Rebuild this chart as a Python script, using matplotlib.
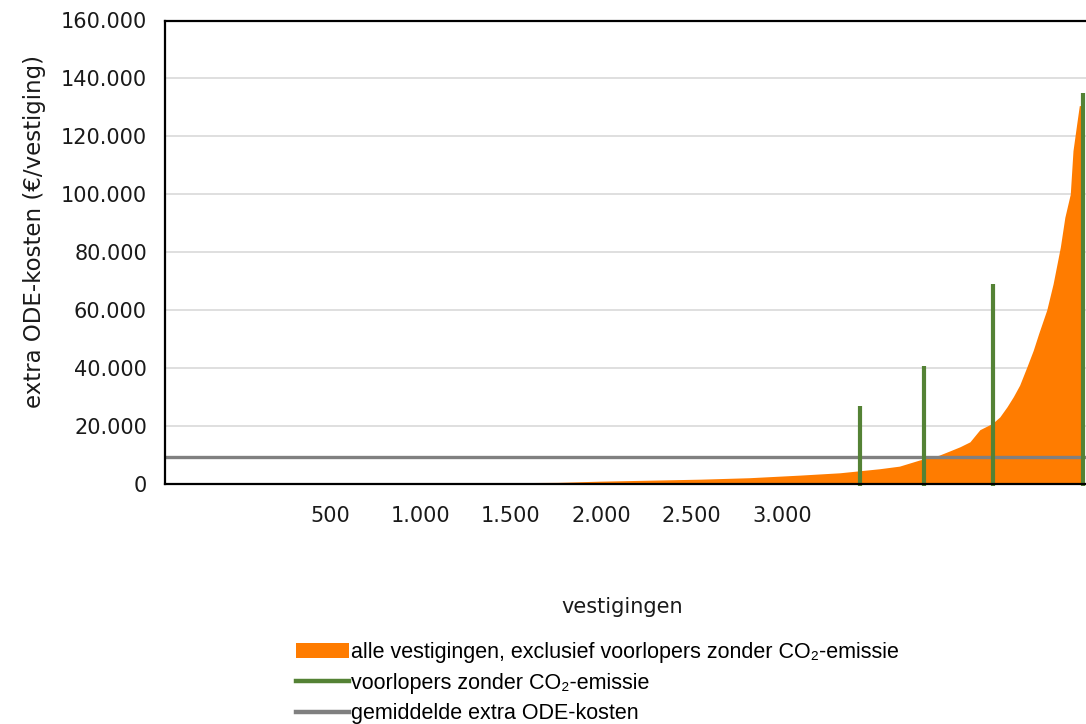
import matplotlib.pyplot as plt
from matplotlib.patches import Patch
from matplotlib.lines import Line2D
from matplotlib.ticker import FuncFormatter

# orange area: alle vestigingen, sorted by extra ODE-kosten
area_x = [0, 1040, 1760, 1990, 2550, 2820, 3100, 3320, 3430, 3540, 3650, 3760,
          3870, 3930, 3985, 4040, 4070, 4095, 4165, 4205, 4245, 4280, 4315, 4355,
          4390, 4420, 4465, 4500, 4540, 4565, 4595, 4610, 4630, 4645, 4665]
area_y = [0, 100, 400, 800, 1500, 2000, 2900, 3700, 4400, 5100, 6000, 8100,
          9800, 11300, 12700, 14400, 16700, 18600, 20800, 23000, 26500, 30000, 34000, 40300,
          46000, 51800, 60000, 69000, 81700, 92000, 100000, 115000, 124000, 130600, 130600]

# green bars: voorlopers zonder CO2-emissie
lead_x = [3432, 3786, 4167, 4665]
lead_y = [26700, 40500, 69100, 135000]

mean_cost = 9250

x_ticks = [500, 1000, 1500, 2000, 2500, 3000]
y_ticks = [0, 20000, 40000, 60000, 80000, 100000, 120000, 140000, 160000]

orange = '#ff7c00'
green = '#548235'
grey = '#808080'

fig = plt.figure(figsize=(10.86, 7.24), dpi=100)
ax = fig.add_axes([165 / 1086, 240.5 / 724, 921 / 1086, 463 / 724])

ax.fill_between(area_x, area_y, 0, color=orange, lw=0, zorder=2)
ax.axhline(mean_cost, color=grey, lw=2.4, zorder=3)
ax.vlines(lead_x, -800, lead_y, color=green, lw=3, zorder=4, clip_on=False)

ax.set_xlim(-412, 4682)
ax.set_ylim(0, 160000)
ax.set_xticks(x_ticks)
ax.set_yticks(y_ticks)

fmt = FuncFormatter(lambda v, p: f'{int(v):,}'.replace(',', '.'))
ax.xaxis.set_major_formatter(fmt)
ax.yaxis.set_major_formatter(fmt)
ax.tick_params(axis='both', length=0, labelsize=15, colors='#1a1a1a')
ax.tick_params(axis='y', pad=13)
ax.tick_params(axis='x', pad=16)

ax.grid(axis='y', color='#d9d9d9', lw=1.2, zorder=0)
ax.set_axisbelow(True)
for s in ['left', 'top', 'bottom']:
    ax.spines[s].set_color('black')
    ax.spines[s].set_linewidth(1.6)
    ax.spines[s].set_zorder(5)
ax.spines['right'].set_visible(False)

ax.set_xlabel('vestigingen', fontsize=15, color='#1a1a1a')
ax.xaxis.label.set_va('center')
ax.xaxis.set_label_coords((622 - 165) / 921, (483.5 - 607) / 463)
ax.set_ylabel('extra ODE-kosten (€/vestiging)', fontsize=16.5, color='#1a1a1a')
ax.yaxis.label.set_va('center')
ax.yaxis.set_label_coords((35 - 165) / 921, (483.5 - 232) / 463)

handles = [Patch(color=orange, lw=0),
           Line2D([], [], color=green, lw=3.2),
           Line2D([], [], color=grey, lw=3.2)]
labels = ['alle vestigingen, exclusief voorlopers zonder CO₂-emissie',
          'voorlopers zonder CO₂-emissie',
          'gemiddelde extra ODE-kosten']
fig.legend(handles, labels, loc='upper left', bbox_to_anchor=(296 / 1086, 1 - 642 / 724),
           frameon=False, borderpad=0, borderaxespad=0, handlelength=2.45, handleheight=0.75,
           handletextpad=0.12, labelspacing=0.45,
           prop={'family': ['Liberation Sans', 'DejaVu Sans'], 'size': 15.5})

fig.savefig('out.png', dpi=100)
